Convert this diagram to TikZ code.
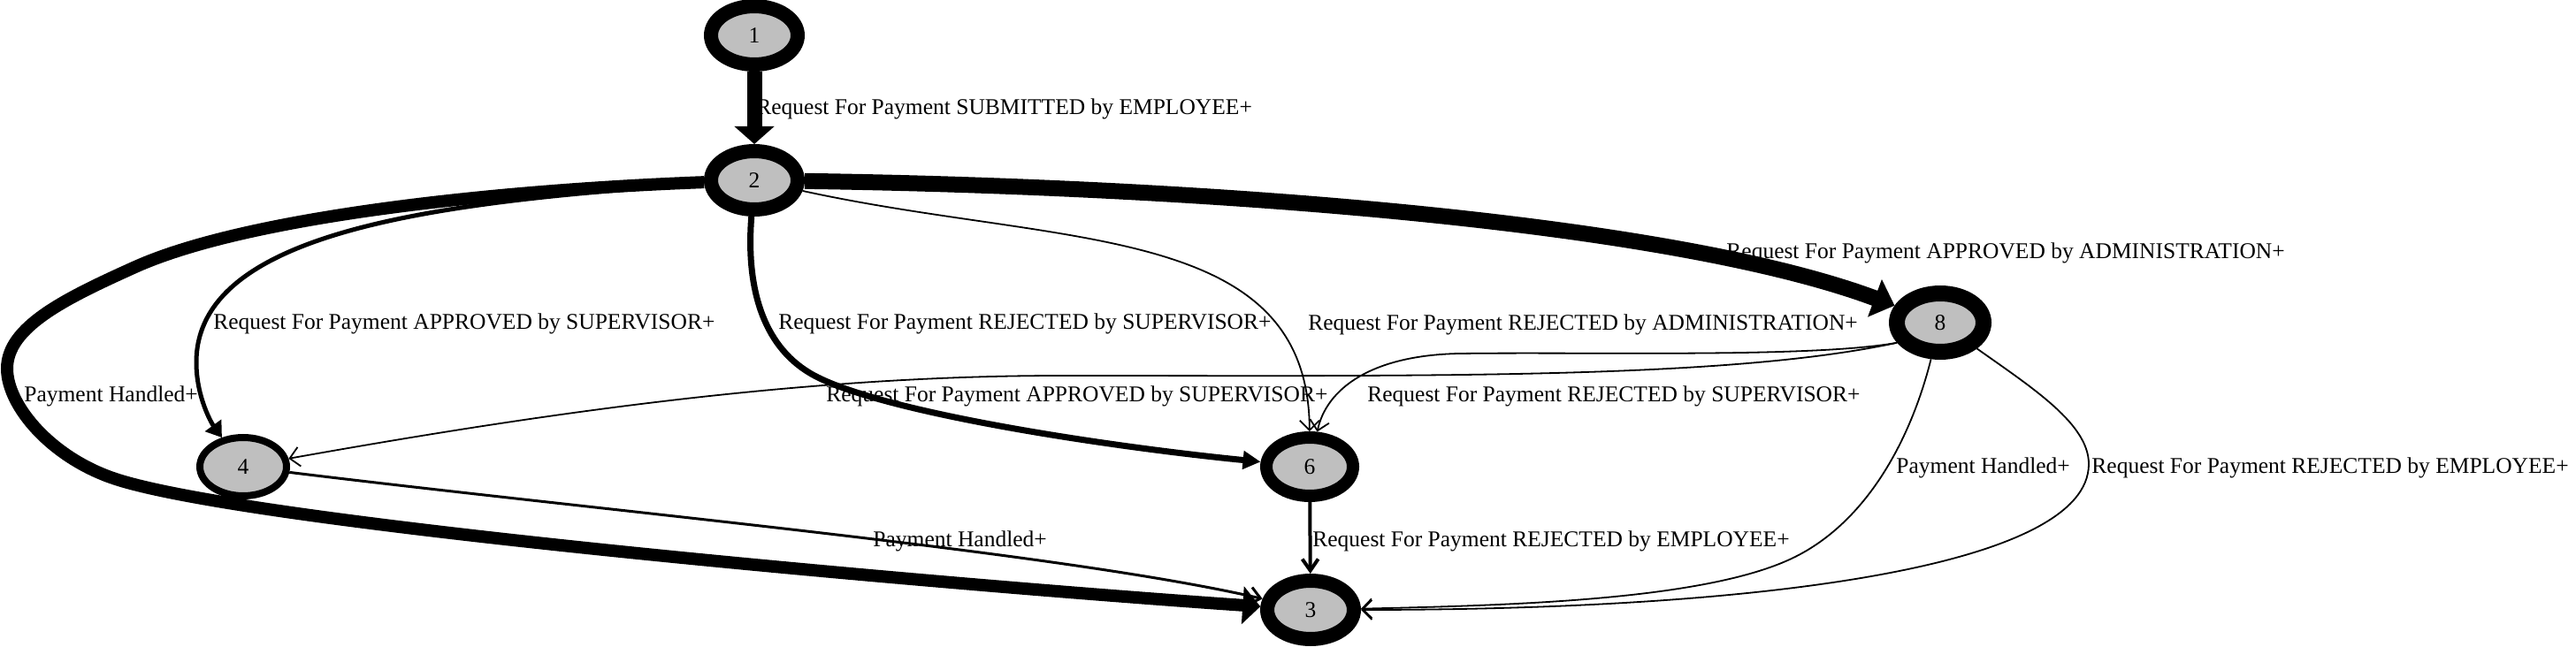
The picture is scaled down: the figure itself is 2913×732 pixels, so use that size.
\documentclass[tikz,border=0pt]{standalone}
\usepackage{fontspec}
\setmainfont{Liberation Serif}
\usetikzlibrary{arrows.meta,shapes.geometric}

\begin{document}
\begin{tikzpicture}[
  x=0.5pt,
  y=0.5pt,
  font=\fontsize{12.75pt}{15pt}\selectfont,
  state/.style={ellipse,draw=black,fill=black!25,inner sep=0pt,
                minimum width=49pt,minimum height=33pt},
  lbl/.style={anchor=base west,inner sep=0pt},
  slim/.style={draw=black,line width=0.9pt,-{Straight Barb[length=5.5pt,width=11pt]}},
  heavy/.style={draw=black,-{Triangle[length=10pt,width=20pt]}}
]
\useasboundingbox (0,0) rectangle (2913,-732);

% ---------------------------------------------------------------- states
\node[state,line width=8pt] (n1) at (853,-40)   {1};
\node[state,line width=8pt] (n2) at (853,-204)  {2};
\node[state,line width=9pt] (n8) at (2194,-365) {8};
\node[state,line width=4pt] (n4) at (275,-528)  {4};
\node[state,line width=7pt] (n6) at (1481,-528) {6};
\node[state,line width=8pt] (n3) at (1482,-690) {3};

% ---------------------------------------------------------------- transitions out of 1 and 2
\draw[heavy,line width=8.5pt,-{Triangle[length=10pt,width=22pt]}] (n1) -- (n2);
\draw[heavy,line width=9pt,-{Triangle[length=12pt,width=22pt]}]
  (n2) .. controls (1400,-212) and (1900,-255) .. (n8);
\draw[heavy,line width=7pt,-{Triangle[length=10pt,width=21pt]}]
  (n2) .. controls (560,-215) and (280,-245) .. (153,-302)
       .. controls (73,-338) and (8,-370) .. (8,-417)
       .. controls (8,-460) and (60,-520) .. (134,-543)
       .. controls (300,-595) and (1100,-664) .. (n3);
\draw[heavy,line width=2.5pt,-{Triangle[length=8.5pt,width=11pt]}]
  (n2) .. controls (500,-228) and (222,-260) .. (222,-410)
       .. controls (222,-450) and (240,-480) .. (n4);
\draw[heavy,line width=3.5pt,-{Triangle[length=10pt,width=10pt]}]
  (n2) .. controls (843,-330) and (865,-395) .. (921,-425)
       .. controls (1000,-467) and (1250,-505) .. (n6);
\draw[slim] (n2) .. controls (1200,-280) and (1480,-250) .. (n6);

% ---------------------------------------------------------------- transitions out of 8
\draw[slim] (n8.205) .. controls (1950,-430) and (1600,-425) .. (1200,-425)
                     .. controls (900,-425) and (600,-470) .. (n4);
\draw[slim] (n8.205) .. controls (2050,-405) and (1800,-398) .. (1650,-400)
                     .. controls (1550,-402) and (1500,-440) .. (n6);
\draw[slim] (n8) .. controls (2160,-500) and (2110,-590) .. (2030,-630)
                 .. controls (1930,-680) and (1700,-685) .. (n3);
\draw[slim] (n8) .. controls (2300,-440) and (2362,-480) .. (2362,-525)
                 .. controls (2362,-640) and (2000,-690) .. (n3);

% ---------------------------------------------------------------- into 3
\draw[line width=1.5pt,-{Straight Barb[length=6pt,width=10pt]}]
  (n4) .. controls (700,-580) and (1200,-625) .. (n3);
\draw[line width=2pt,-{Straight Barb[length=6.5pt,width=9pt]}] (n6) -- (n3);

% ---------------------------------------------------------------- labels
\node[lbl] (l12)  at (855,-130)  {Request For Payment SUBMITTED by EMPLOYEE+};
\node[lbl] (l28)  at (1952,-293) {Request For Payment APPROVED by ADMINISTRATION+};
\node[lbl] (l23)  at (27,-455)   {Payment Handled+};
\node[lbl] (l24)  at (241,-373)  {Request For Payment APPROVED by SUPERVISOR+};
\node[lbl] (l26a) at (880,-373)  {Request For Payment REJECTED by SUPERVISOR+};
\node[lbl] (l26b) at (1479,-374) {Request For Payment REJECTED by ADMINISTRATION+};
\node[lbl] (l84)  at (934,-455)  {Request For Payment APPROVED by SUPERVISOR+};
\node[lbl] (l86)  at (1546,-455) {Request For Payment REJECTED by SUPERVISOR+};
\node[lbl] (l43)  at (987,-618)  {Payment Handled+};
\node[lbl] (l63)  at (1484,-618) {Request For Payment REJECTED by EMPLOYEE+};
\node[lbl] (l83a) at (2144,-536) {Payment Handled+};
\node[lbl] (l83b) at (2365,-536) {Request For Payment REJECTED by EMPLOYEE+};

\end{tikzpicture}
\end{document}
